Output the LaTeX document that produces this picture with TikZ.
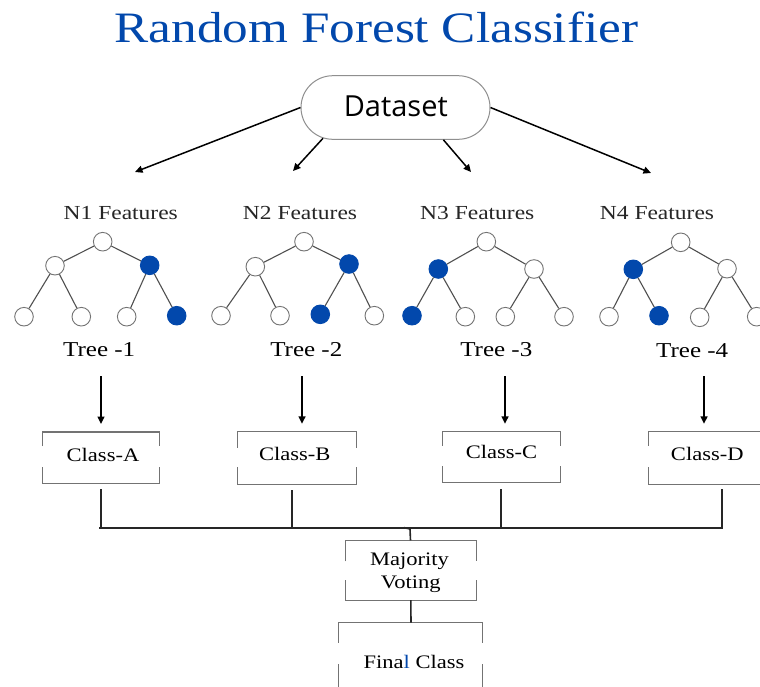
\documentclass[tikz,border=0pt]{standalone}
\usepackage{fontspec}
\setmainfont{Liberation Serif}
\newfontfamily\dsfont{Open Sans}
\usepackage{graphicx}
\usetikzlibrary{arrows.meta,shapes.misc,calc}

\definecolor{forestblue}{RGB}{2,72,172}
\definecolor{edgegray}{RGB}{80,80,80}
\definecolor{boxgray}{RGB}{115,115,115}

% widen the serif a little
\newcommand{\wide}[1]{\scalebox{1.18}[1]{#1}}

% box whose side edges are interrupted in the middle
\newcommand{\gapbox}[3]{%
  \draw[boxline] ([yshift=-#2]#1.north west) -- (#1.north west) -- (#1.north east) -- ([yshift=-#2]#1.north east);
  \draw[boxline] ([yshift=#3]#1.south west) -- (#1.south west) -- (#1.south east) -- ([yshift=#3]#1.south east);}

\begin{document}
\begin{tikzpicture}[x=1pt,y=-1pt,
  leaf/.style={circle, draw=boxgray, line width=0.9pt, fill=white, minimum size=18.6pt, inner sep=0pt},
  hit/.style={leaf, draw=forestblue, fill=forestblue},
  branch/.style={draw=edgegray, line width=1.1pt},
  arr/.style={-{Triangle[length=7.5pt,width=7pt]}, line width=1.5pt, black},
  boxline/.style={draw=boxgray, line width=1.2pt},
  holder/.style={rectangle, draw=none, inner sep=0pt},
  featlabel/.style={font=\fontsize{19.9}{24}\selectfont, anchor=base, inner sep=0pt, text=black!85},
  treelabel/.style={font=\fontsize{21.2}{25}\selectfont, anchor=base, inner sep=0pt},
  classlabel/.style={font=\fontsize{19.1}{23}\selectfont, anchor=base, inner sep=0pt},
  bus/.style={draw=black!85, line width=2.4pt},
  drop/.style={draw=black!85, line width=2pt}]

\useasboundingbox (0,0) rectangle (760,686);
\clip (0,0) rectangle (760,686);
\fill[white] (0,0) rectangle (760,686);

% title
\node[font=\fontsize{43.4}{50}\selectfont, text=forestblue, anchor=base, inner sep=0pt] (title) at (376.5,42) {\wide{Random Forest Classifier}};

% dataset
\node[rounded rectangle, draw=boxgray!80, line width=1pt, minimum width=189pt, minimum height=63.6pt, inner sep=0pt] (ds) at (395.5,107.5) {};
\node[font=\dsfont\fontsize{29}{34}\selectfont, anchor=base, inner sep=0pt] (dstext) at (395.8,116.7) {Dataset};

\coordinate (d1) at (135,172);
\coordinate (d2) at (293,171);
\coordinate (d3) at (471,172);
\coordinate (d4) at (651,173);
\draw[arr] (ds.west) -- (d1);
\draw[arr] (ds.203) -- (d2);
\draw[arr] (ds.326) -- (d3);
\draw[arr] (ds.east) -- (d4);

% feature labels
\node[featlabel] (f1) at (120.8,219) {\wide{N1 Features}};
\node[featlabel] (f2) at (300,219) {\wide{N2 Features}};
\node[featlabel] (f3) at (477.3,219.3) {\wide{N3 Features}};
\node[featlabel] (f4) at (657,219) {\wide{N4 Features}};

% tree 1
\node[leaf] (t1r) at (102.7,241.7) {};
\node[leaf] (t1a) at (55,265.7) {};
\node[hit]  (t1b) at (149.7,265.3) {};
\node[leaf] (t1c) at (24,316.7) {};
\node[leaf] (t1d) at (81.3,316.7) {};
\node[leaf] (t1e) at (126.7,316.7) {};
\node[hit]  (t1f) at (176.7,315.7) {};
% tree 2
\node[leaf] (t2r) at (304,241.7) {};
\node[leaf] (t2a) at (255.3,266.7) {};
\node[hit]  (t2b) at (349,264) {};
\node[leaf] (t2c) at (221,315.7) {};
\node[leaf] (t2d) at (280,315.7) {};
\node[hit]  (t2e) at (320.3,314.3) {};
\node[leaf] (t2f) at (374.3,315.7) {};
% tree 3
\node[leaf] (t3r) at (486.3,241.7) {};
\node[hit]  (t3a) at (438.3,269) {};
\node[leaf] (t3b) at (534,269) {};
\node[hit]  (t3c) at (412,315.7) {};
\node[leaf] (t3d) at (465.3,316.7) {};
\node[leaf] (t3e) at (505.3,316.7) {};
\node[leaf] (t3f) at (564,316.7) {};
% tree 4
\node[leaf] (t4r) at (680.7,242.3) {};
\node[hit]  (t4a) at (633.3,269.3) {};
\node[leaf] (t4b) at (727,268.7) {};
\node[leaf] (t4c) at (609,316.7) {};
\node[hit]  (t4d) at (659,315.7) {};
\node[leaf] (t4e) at (699.7,317.3) {};
\node[leaf] (t4f) at (756.7,316.7) {};

\foreach \t in {1,2,3,4}{
  \draw[branch] (t\t r) -- (t\t a);
  \draw[branch] (t\t r) -- (t\t b);
  \draw[branch] (t\t a) -- (t\t c);
  \draw[branch] (t\t a) -- (t\t d);
  \draw[branch] (t\t b) -- (t\t e);
  \draw[branch] (t\t b) -- (t\t f);
}

% tree labels
\node[treelabel] (l1) at (99.2,356) {\wide{Tree -1}};
\node[treelabel] (l2) at (306.3,356) {\wide{Tree -2}};
\node[treelabel] (l3) at (496.3,356.7) {\wide{Tree -3}};
\node[treelabel] (l4) at (692.2,357.3) {\wide{Tree -4}};

% class boxes
\node[holder, minimum width=117pt, minimum height=51pt] (ca) at (101,457.7) {};
\node[holder, minimum width=118.7pt, minimum height=52pt] (cb) at (296.7,458) {};
\node[holder, minimum width=117pt, minimum height=50pt] (cc) at (501.5,457) {};
\node[holder, minimum width=119pt, minimum height=52pt] (cd) at (708,458) {};
\gapbox{ca}{14pt}{16pt}
\gapbox{cb}{16pt}{17pt}
\gapbox{cc}{14pt}{16pt}
\gapbox{cd}{14pt}{17pt}

\node[classlabel] (cat) at (103,461.7) {\wide{Class-A}};
\node[classlabel] (cbt) at (294.7,460.7) {\wide{Class-B}};
\node[classlabel] (cct) at (501.5,458) {\wide{Class-C}};
\node[classlabel] (cdt) at (707.3,460) {\wide{Class-D}};

% arrows from trees to classes
\coordinate (s1) at (101,376);
\coordinate (s2) at (302,376);
\coordinate (s3) at (505,376);
\coordinate (s4) at (704,376);
\draw[arr, shorten >=8pt] (s1) -- (s1 |- ca.north);
\draw[arr, shorten >=8pt] (s2) -- (s2 |- cb.north);
\draw[arr, shorten >=8pt] (s3) -- (s3 |- cc.north);
\draw[arr, shorten >=8pt] (s4) -- (s4 |- cd.north);

% voting bus
\coordinate (busl) at (100,528);
\coordinate (busr) at (722,528);
\draw[drop] ([yshift=-6pt]ca.south) -- (ca.south |- busl);
\draw[drop] ([xshift=-4.7pt,yshift=-6pt]cb.south) -- ([xshift=-4.7pt]cb.south |- busl);
\draw[drop] ([xshift=-0.5pt,yshift=-7pt]cc.south) -- ([xshift=-0.5pt]cc.south |- busl);
\draw[drop] ([xshift=14pt,yshift=-5pt]cd.south) -- ([xshift=14pt]cd.south |- busl);
\draw[bus, line cap=rect] (busl) -- (busr);

% majority voting
\node[holder, minimum width=130.7pt, minimum height=59.3pt] (mv) at (411.3,570.3) {};
\gapbox{mv}{21pt}{20pt}
\node[classlabel] (mvt1) at (409.5,565) {\wide{Majority}};
\node[classlabel] (mvt2) at (410.8,588.3) {\wide{Voting}};
\coordinate (hook) at (404,527.6);
\draw[draw=black!85, line width=1.6pt] (hook) -- (410,529) -- (410.5,529 |- mv.north);

% final class
\node[holder, minimum width=144pt, minimum height=80pt] (fc) at (410.3,662.7) {};
\gapbox{fc}{20.3pt}{38.7pt}
\draw[draw=black!85, line width=1.6pt] (mv.south -| 410.8,0) -- (411,0 |- fc.north);
\node[classlabel] (fct) at (414,668.3) {\wide{Fina{\color{forestblue}l} Class}};

\end{tikzpicture}
\end{document}
